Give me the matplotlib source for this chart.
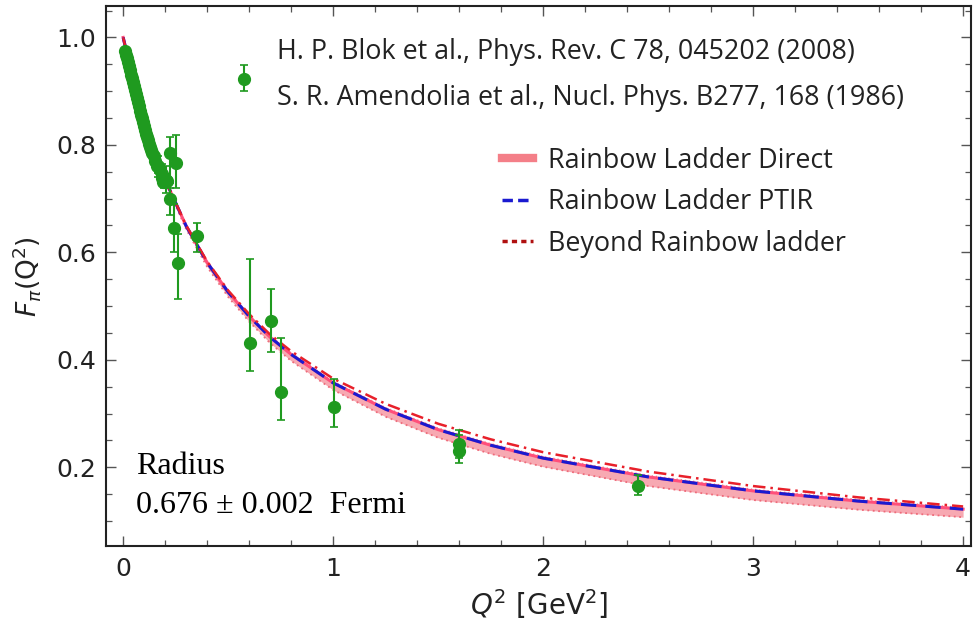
import numpy as np
import matplotlib
matplotlib.use("Agg")
import matplotlib.pyplot as plt
from matplotlib.lines import Line2D
from matplotlib.ticker import MultipleLocator

axesColour = '#222222'
green = '#1f9a1f'

# model curves
q2Curve = [0.0, 0.05, 0.1, 0.15, 0.2, 0.3, 0.4, 0.5, 0.6, 0.7, 0.8, 1.0, 1.25, 1.5, 1.75, 2.0, 2.5, 3.0, 3.5, 4.0]
ptir = [1.0, 0.917, 0.847, 0.787, 0.735, 0.649, 0.581, 0.526, 0.481, 0.442, 0.410, 0.357, 0.308, 0.270, 0.241, 0.217, 0.182, 0.156, 0.137, 0.122]
beyond = [1.0, 0.917, 0.847, 0.787, 0.735, 0.650, 0.583, 0.529, 0.485, 0.447, 0.416, 0.365, 0.318, 0.281, 0.252, 0.228, 0.192, 0.165, 0.144, 0.127]
directHi = [1.0, 0.917, 0.847, 0.787, 0.736, 0.650, 0.583, 0.529, 0.484, 0.445, 0.413, 0.360, 0.311, 0.273, 0.244, 0.220, 0.185, 0.159, 0.140, 0.125]
directLo = [1.0, 0.916, 0.845, 0.784, 0.731, 0.643, 0.573, 0.517, 0.471, 0.431, 0.398, 0.344, 0.294, 0.255, 0.225, 0.201, 0.165, 0.139, 0.121, 0.107]

# Amendolia et al. (dense low-Q2 set)
q2Amen = [0.010, 0.014, 0.019, 0.024, 0.029, 0.033, 0.038, 0.043, 0.048, 0.052, 0.057, 0.062, 0.067, 0.071,
          0.076, 0.081, 0.086, 0.090, 0.095, 0.100, 0.105, 0.110, 0.114, 0.119, 0.124, 0.129, 0.133, 0.138,
          0.148, 0.152, 0.162, 0.176, 0.186, 0.190, 0.210]
fAmen = [0.975, 0.968, 0.961, 0.954, 0.946, 0.939, 0.931, 0.924, 0.917, 0.909, 0.902, 0.894, 0.887, 0.879,
         0.872, 0.864, 0.856, 0.851, 0.843, 0.836, 0.828, 0.821, 0.814, 0.810, 0.802, 0.797, 0.791, 0.785,
         0.779, 0.770, 0.760, 0.753, 0.738, 0.731, 0.733]
errAmen = [0.005] * 20 + [0.008] * 8 + [0.012] * 7

# points with larger error bars
q2Big = [0.167, 0.186, 0.205, 0.224, 0.252, 0.224, 0.240, 0.262, 0.352, 0.576,
         0.605, 0.705, 0.752, 1.005, 1.600, 1.600, 2.450]
fBig = [0.760, 0.745, 0.735, 0.785, 0.767, 0.700, 0.645, 0.580, 0.630, 0.922,
        0.431, 0.472, 0.340, 0.312, 0.243, 0.230, 0.165]
errLow = [0.020, 0.020, 0.025, 0.066, 0.048, 0.030, 0.045, 0.066, 0.030, 0.021,
          0.052, 0.058, 0.053, 0.038, 0.025, 0.022, 0.017]
errHigh = [0.020, 0.020, 0.025, 0.029, 0.051, 0.030, 0.045, 0.055, 0.025, 0.026,
           0.156, 0.059, 0.100, 0.052, 0.027, 0.030, 0.020]

citations = ["H. P. Blok et al., Phys. Rev. C 78, 045202 (2008)",
             "S. R. Amendolia et al., Nucl. Phys. B277, 168 (1986)"]
modelLabels = ["Rainbow Ladder Direct", "Rainbow Ladder PTIR", "Beyond Rainbow ladder"]


def pionFormFactor():
    fig = plt.figure(figsize=(9.74, 6.30), dpi=100)
    ax = fig.add_axes([0.109, 0.133, 0.888, 0.857])

    # model band and curves
    ax.fill_between(q2Curve, directLo, directHi, color='#f7a9b2', lw=0, zorder=2)
    ax.plot(q2Curve, directLo, color='#ee6b7a', lw=1.3, ls=(0, (1, 2)), zorder=3)
    ax.plot(q2Curve, directHi, color='#f28a96', lw=1.0, ls=(0, (1, 2)), zorder=3)
    ax.plot(q2Curve, ptir, color='#ff4f7a', lw=2.2, zorder=3)
    ax.plot(q2Curve, ptir, color='#1a1ad0', lw=2.2, ls=(0, (5, 3)), zorder=4)
    ax.plot(q2Curve, beyond, color='#e8202a', lw=1.8, ls=(0, (5, 2, 1, 2)), zorder=4)

    # data
    ax.errorbar(q2Amen, fAmen, yerr=errAmen, fmt='o', color=green, ms=8.5, elinewidth=1.5,
                capsize=2.5, capthick=1.2, zorder=5)
    ax.errorbar(q2Big, fBig, yerr=[errLow, errHigh], fmt='o', color=green, ms=8.5, elinewidth=1.5,
                capsize=3, capthick=1.2, zorder=5)

    ax.set_xlim(-0.081, 4.038)
    ax.set_ylim(0.053, 1.058)
    ax.xaxis.set_minor_locator(MultipleLocator(0.2))
    ax.yaxis.set_minor_locator(MultipleLocator(0.05))
    ax.set_xticks([0, 1, 2, 3, 4])
    ax.set_xticklabels(['0', '1', '2', '3', '4'])
    ax.set_yticks([0.2, 0.4, 0.6, 0.8, 1.0])
    ax.set_yticklabels(['0.2', '0.4', '0.6', '0.8', '1.0'])
    ax.tick_params(which='both', direction='in', top=True, right=True, color='#555555',
                   labelcolor=axesColour, labelsize=18)
    ax.tick_params(which='major', length=7, width=1.0)
    ax.tick_params(which='minor', length=4, width=0.9)
    ax.tick_params(axis='x', pad=8)
    ax.tick_params(axis='y', pad=7)
    for s in ax.spines.values():
        s.set_color(axesColour)
        s.set_linewidth(1.5)

    ax.set_xlabel(r'$Q^2$ [GeV$^2$]', fontsize=20, color=axesColour, labelpad=4)
    ax.set_ylabel(r'$F_{\pi}(\mathrm{Q}^2)$', fontsize=19, color=axesColour, labelpad=10)

    # citations
    ax.text(0.198, 0.915, citations[0], transform=ax.transAxes, fontsize=19.4, family='Open Sans',
            color='#222222', va='center', ha='left')
    ax.text(0.198, 0.831, citations[1], transform=ax.transAxes, fontsize=19.4, family='Open Sans',
            color='#222222', va='center', ha='left')

    # model legend
    handles = [Line2D([], [], color='#f47f88', lw=6),
               Line2D([], [], color='#1a1ad0', lw=2.5, ls=(0, (3, 1.5))),
               Line2D([], [], color='#b01010', lw=2.5, ls=(0, (1.5, 1.2)))]
    ax.legend(handles, modelLabels, loc='upper left', bbox_to_anchor=(0.43, 0.785), frameon=False,
              prop={'family': 'Open Sans', 'size': 19.4}, labelcolor='#222222', handlelength=1.15,
              handletextpad=0.55, labelspacing=0.5)

    ax.text(0.034, 0.148, "Radius", transform=ax.transAxes, fontsize=23, family='Liberation Serif',
            va='center', ha='left')
    ax.text(0.034, 0.076, "0.676 \u00b1 0.002  Fermi", transform=ax.transAxes, fontsize=23,
            family='Liberation Serif', va='center', ha='left')

    plt.savefig("out.png", dpi=100)


if __name__ == "__main__":
    pionFormFactor()
